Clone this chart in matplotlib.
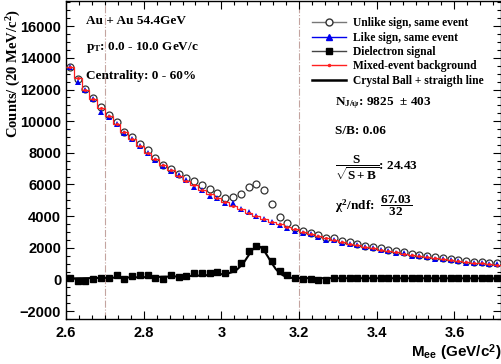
import numpy as np
import matplotlib
matplotlib.use("Agg")
import matplotlib.pyplot as plt
from matplotlib.lines import Line2D
from matplotlib.ticker import MultipleLocator, AutoMinorLocator, FormatStrFormatter

plt.rcParams['mathtext.fontset'] = 'custom'
plt.rcParams['mathtext.rm'] = 'Liberation Serif:bold'
plt.rcParams['mathtext.it'] = 'Liberation Serif:bold'
plt.rcParams['mathtext.bf'] = 'Liberation Serif:bold'

# bin centres, 20 MeV bins
mass = np.round(np.arange(2.61, 3.72, 0.02), 2)

unlike_sign = [13400, 12650, 12010, 11440, 10900, 10380, 9970, 9330, 9020, 8560,
               8170, 7650, 7230, 6990, 6640, 6380, 6200, 5950, 5740, 5490,
               5170, 5240, 5380, 5870, 6060, 5680, 4760, 3970, 3560, 3220,
               3060, 2940, 2790, 2610, 2600, 2420, 2350, 2240, 2110, 2050,
               1980, 1860, 1790, 1730, 1600, 1540, 1480, 1410, 1340, 1290,
               1230, 1160, 1100, 1100, 1040, 1030]

like_sign = [13450, 12490, 11990, 11430, 10600, 10290, 9840, 9280, 8900, 8400,
             8010, 7570, 7190, 6880, 6620, 6300, 5870, 5680, 5300, 5170,
             4800, 4800, 4420, 4230, 3980, 3850, 3600, 3470, 3280, 3090,
             2960, 2840, 2710, 2520, 2520, 2330, 2270, 2150, 2020, 1960,
             1890, 1770, 1700, 1640, 1510, 1450, 1390, 1320, 1260, 1200,
             1140, 1070, 1010, 1010, 950, 950]

mixed_event = [13400, 12700, 12000, 11400, 10850, 10300, 9800, 9300, 8850, 8400,
               8000, 7600, 7250, 6900, 6550, 6250, 5950, 5650, 5380, 5120,
               4880, 4650, 4430, 4220, 4020, 3830, 3650, 3480, 3320, 3160,
               3010, 2870, 2740, 2610, 2490, 2370, 2260, 2160, 2060, 1960,
               1870, 1790, 1710, 1630, 1550, 1480, 1410, 1350, 1290, 1230,
               1170, 1120, 1070, 1020, 980, 940]

signal = [60, -130, -130, 0, 60, 60, 250, 0, 190, 250,
          250, 60, 0, 250, 130, 190, 380, 380, 380, 440,
          380, 630, 1030, 1780, 2110, 1950, 1140, 550, 250, 90,
          20, 20, -20, -20, 100, 100, 100, 80, 80, 100,
          80, 80, 80, 80, 100, 80, 80, 80, 80, 80,
          100, 80, 80, 80, 100, 100]

# Crystal Ball + straight line
fit_x = [2.60, 2.70, 2.80, 2.90, 2.95, 3.00, 3.02, 3.03, 3.04, 3.05, 3.06, 3.07,
         3.08, 3.09, 3.10, 3.11, 3.12, 3.13, 3.14, 3.15, 3.16, 3.17, 3.18, 3.19,
         3.20, 3.72]
fit_y = [60, 100, 140, 200, 250, 330, 400, 480, 620, 850, 1150, 1520,
         1880, 2080, 2060, 1820, 1430, 1020, 660, 400, 240, 150, 100, 85,
         80, 70]

cut_lines = [2.7, 3.2]

fig = plt.figure(figsize=(5.02, 3.64), dpi=100)
ax = fig.add_axes([0.1315, 0.1236, 0.8665, 0.874])

for xc in cut_lines:
    ax.axvline(xc, color='#c4a4a0', ls='-.', lw=0.8, zorder=1)

ax.plot(mass, unlike_sign, 'o', mfc='white', mec='#333333', ms=5, mew=0.9, zorder=3)
ax.plot(mass, like_sign, '^', color='#0000ee', ms=5, mew=0, zorder=4)
edges = np.append(mass - 0.01, mass[-1] + 0.01)
ax.stairs(mixed_event, edges, baseline=None, color='#ff2020', lw=0.9, zorder=5)
ax.plot(mass, mixed_event, '.', color='#ff2020', ms=2.5, zorder=5)
ax.plot(fit_x, fit_y, '-', color='black', lw=1.5, zorder=6)
ax.plot(mass, signal, 's', color='black', ms=5, zorder=7)

ax.set_xlim(2.6, 3.72)
ax.set_ylim(-2500, 17600)
ax.xaxis.set_major_locator(MultipleLocator(0.2))
ax.xaxis.set_minor_locator(AutoMinorLocator(6))
ax.xaxis.set_major_formatter(FormatStrFormatter('%g'))
ax.yaxis.set_major_locator(MultipleLocator(2000))
ax.yaxis.set_minor_locator(MultipleLocator(500))
ax.tick_params(which='both', direction='in', top=True, right=True, width=0.8)
ax.tick_params(which='major', length=6)
ax.tick_params(which='minor', length=3)
for lab in ax.get_xticklabels() + ax.get_yticklabels():
    lab.set_fontfamily('Liberation Sans')
    lab.set_fontweight('bold')
    lab.set_fontsize(10.5)
ax.tick_params(axis='x', pad=5)
for sp in ax.spines.values():
    sp.set_linewidth(1.0)

ax.set_ylabel(r'Counts/ (20 MeV/c$^{2}$)', fontfamily='Liberation Serif',
              fontweight='bold', fontsize=10.5)
ax.yaxis.set_label_coords(-0.1, 0.77)
ax.text(1.0, -0.105, r'M$_{\mathregular{ee}}$ (GeV/c$^{\mathregular{2}}$)', transform=ax.transAxes,
        ha='right', va='center', fontfamily='Liberation Sans', fontweight='bold', fontsize=11)

tkw = dict(transform=ax.transAxes, fontfamily='Liberation Serif', fontweight='bold',
           fontsize=9.5, va='center', ha='left')
ax.text(0.046, 0.937, 'Au + Au 54.4GeV', **tkw)
ax.text(0.046, 0.853, r'p$_{\mathregular{T}}$: 0.0 - 10.0 GeV/c', **tkw)
ax.text(0.046, 0.765, 'Centrality: 0 - 60%', **tkw)
ax.text(0.618, 0.68, r'N$_{\mathregular{J/\psi}}$: 9825  $\pm$ 403', **tkw)
ax.text(0.618, 0.592, 'S/B: 0.06', **tkw)
ax.text(0.618, 0.475, r'$\dfrac{S}{\sqrt{S+B}}$: 24.43', **tkw)
ax.text(0.618, 0.355, r'$\chi^{2}$/ndf:  $\dfrac{67.03}{32}$', **tkw)

handles = [
    Line2D([], [], color='#777777', marker='o', mfc='white', mec='#333333', ms=5, lw=1),
    Line2D([], [], color='#0000ee', marker='^', ms=5, lw=1),
    Line2D([], [], color='#444444', marker='s', mfc='black', mec='black', ms=5, lw=1),
    Line2D([], [], color='#ff2020', marker='.', ms=3, lw=1),
    Line2D([], [], color='black', lw=1.8),
]
labels = ['Unlike sign, same event', 'Like sign, same event', 'Dielectron signal',
          'Mixed-event background', 'Crystal Ball + straigth line']
ax.legend(handles, labels, loc='upper left', bbox_to_anchor=(0.566, 0.948), frameon=False,
          prop={'family': 'Liberation Serif', 'weight': 'bold', 'size': 8.3},
          handlelength=2.9, handletextpad=0.6, labelspacing=0.2, borderpad=0.0,
          borderaxespad=0.0)

fig.savefig('out.png', dpi=100)
